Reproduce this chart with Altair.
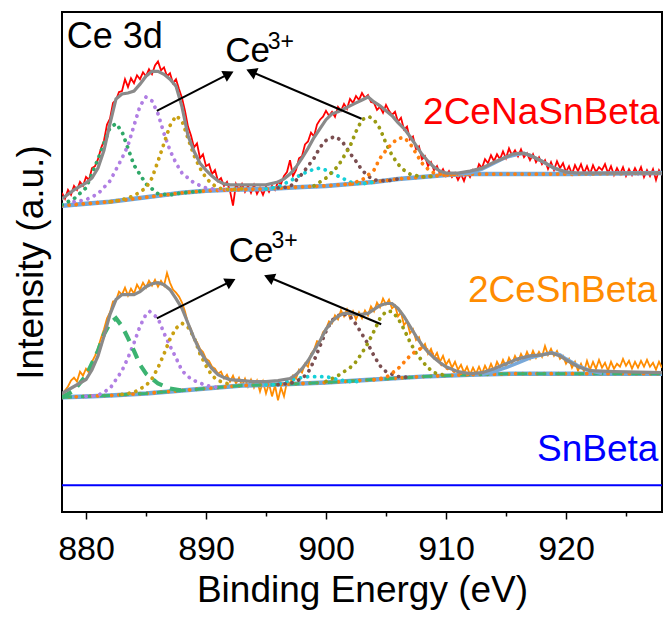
import altair as alt
import pandas as pd

# ---------------- data (intensity in arbitrary units) ----------------
E_START = 878.0
E_STEP = 0.25

# raw spectrum 2CeNaSnBeta, one row per eV (878.00, 878.25, 878.50, 878.75)
red_raw = [
    323, 317, 326, 321,  330, 326, 334, 330,  339, 336, 348, 350,  357, 368, 376, 392,
    398, 414, 417, 425,  426, 438, 430, 439,  434, 442, 438, 445,  441, 448, 443, 452,
    456, 447, 450, 441,  444, 434, 438, 428,  419, 406, 390, 381,  369, 373, 358, 362,
    350, 352, 342, 346,  335, 338, 330, 334,  325, 310, 332, 326,  332, 324, 330, 323,
    331, 322, 328, 321,  329, 324, 330, 326,  334, 332, 340, 344,  356, 340, 346, 358,
    360, 372, 375, 384,  380, 392, 397, 400,  406, 401, 405, 400,  410, 406, 413, 408,
    418, 414, 421, 417,  424, 419, 422, 415,  414, 407, 410, 404,  412, 406, 402, 405,
    395, 399, 387, 390,  377, 380, 367, 370,  357, 360, 350, 354,  346, 350, 342, 347,
    340, 345, 339, 343,  336, 342, 335, 344,  339, 346, 342, 352,  348, 357, 353, 361,
    355, 362, 357, 365,  358, 368, 361, 366,  360, 367, 359, 363,  356, 362, 354, 359,
    352, 356, 347, 354,  346, 355, 348, 353,  344, 350, 342, 351,  345, 352, 343, 350,
    342, 351, 344, 349,  346, 352, 343, 350,  341, 348, 342, 349,  340, 347, 341, 348,
    342, 349, 339, 346,  340, 347, 336, 346,  341,
]

# raw spectrum 2CeSnBeta
orange_raw = [
    118, 123, 127, 133,  136, 132, 142, 138,  145, 141, 152, 158,  166, 176, 185, 196,
    202, 213, 214, 223,  220, 227, 219, 226,  221, 230, 225, 232,  227, 234, 229, 235,
    228, 234, 229, 242,  232, 225, 222, 218,  212, 203, 191, 185,  175, 172, 165, 162,
    155, 153, 147, 145,  140, 142, 135, 139,  132, 138, 130, 136,  128, 135, 127, 134,
    126, 133, 122, 132,  120, 130, 117, 128,  113, 126, 117, 132,  130, 138, 135, 144,
    141, 150, 147, 160,  164, 173, 172, 182,  185, 193, 191, 199,  195, 204, 198, 205,
    196, 203, 195, 202,  196, 204, 199, 208,  203, 212, 207, 216,  210, 215, 206, 209,
    198, 202, 189, 193,  181, 185, 174, 177,  166, 170, 160, 165,  156, 161, 152, 158,
    149, 154, 146, 152,  144, 149, 141, 147,  139, 146, 140, 147,  140, 148, 142, 150,
    143, 152, 146, 154,  147, 156, 150, 158,  152, 160, 154, 162,  155, 163, 156, 162,
    157, 168, 159, 165,  158, 163, 155, 158,  150, 155, 146, 152,  143, 150, 142, 153,
    144, 152, 145, 154,  146, 151, 143, 152,  145, 150, 147, 155,  148, 153, 145, 152,
    146, 153, 147, 154,  147, 151, 144, 152,  146,
]

# ---- 2CeNaSnBeta fit ----
top_fit_e = [878, 879, 880, 880.5, 881, 881.5, 882, 882.5, 883, 883.5, 884, 884.5, 885, 885.5,
             886, 886.5, 887, 887.5, 888, 888.5, 889, 889.5, 890, 890.5, 891, 891.5, 892,
             893, 894, 895, 896, 896.5, 897, 897.5, 898, 898.5, 899, 899.5, 900, 900.5, 901,
             901.5, 902, 902.5, 903, 903.5, 904, 904.5, 905, 905.5, 906, 906.5, 907, 907.5,
             908, 908.5, 909, 909.5, 910, 911, 912, 913, 914, 915, 915.5, 916, 916.5, 917,
             918, 919, 920, 921, 922, 925, 928]
top_fit_i = [317, 326, 333, 338, 348, 366, 393, 418, 423, 424, 426, 433, 441, 446, 446, 443,
             438, 431, 410, 381, 365, 353, 346, 340, 335, 332, 331, 331, 331, 331, 334, 337,
             342, 349, 358, 368, 379, 388, 397, 403, 405, 408, 411, 414, 417, 420, 415, 411,
             406, 401, 394, 388, 380, 371, 362, 355, 349, 345, 343, 343, 345, 348, 354, 359,
             362, 363, 363, 361, 355, 348, 344, 343, 343, 343, 343]
top_base_e = [878, 880, 882, 884, 886, 888, 890, 892, 895, 898, 900, 902, 904, 906, 908, 910,
              912, 915, 920, 928]
top_base_i = [310, 312, 314, 317, 320, 323, 325, 326, 327, 329, 330, 332, 334, 337, 339, 341,
              342, 342, 342, 343]
top_green_e = [878, 879, 880, 881, 882, 882.5, 883, 884, 885, 886, 887, 888, 890]
top_green_i = [311, 317, 328, 357, 389, 393, 385, 351, 332, 322, 321, 323, 325]
top_purple_e = [879, 880, 881, 882, 883, 883.5, 884, 884.5, 885, 885.5, 886, 886.5, 887,
                887.5, 888, 889, 890, 891, 892]
top_purple_i = [314, 316, 322, 335, 358, 371, 391, 411, 420, 416, 403, 383, 366, 353, 343,
                333, 328, 326, 326]
top_gold_e = [882, 883, 884, 885, 885.5, 886, 886.5, 887, 887.5, 888, 888.5, 889, 889.5, 890,
              890.5, 891, 892, 893]
top_gold_i = [314, 316, 320, 328, 338, 355, 373, 391, 401, 396, 378, 361, 348, 338, 332, 328,
              326, 327]
top_cyan_e = [895, 896, 897, 898, 899, 899.5, 900, 901, 902, 903, 904]
top_cyan_i = [327, 329, 335, 342, 347, 348, 346, 340, 334, 332, 334]
top_brown_e = [896, 897, 898, 898.5, 899, 899.5, 900, 900.7, 901.3, 902, 902.5, 903, 903.5,
               904, 905, 906]
top_brown_i = [328, 329, 342, 350, 358, 369, 376, 380, 376, 363, 355, 346, 340, 336, 335, 337]
top_olive_e = [899, 900, 901, 902, 902.5, 903, 903.6, 904, 904.5, 905, 905.5, 906, 906.5,
               907, 908, 909]
top_olive_i = [330, 338, 350, 370, 385, 397, 400, 397, 388, 373, 361, 352, 346, 342, 339, 340]
top_orange_e = [902, 903, 904, 904.5, 905, 905.5, 906, 906.5, 907, 907.5, 908, 908.5, 909,
                910, 912]
top_orange_i = [332, 336, 346, 358, 366, 373, 378, 379, 373, 363, 353, 347, 343, 341, 342]
top_sat_e = [911, 912, 913, 914, 915, 916, 916.5, 917, 918, 919, 920, 921]
top_sat_i = [342, 343, 347, 353, 359, 362, 363, 361, 355, 348, 344, 342]

# ---- 2CeSnBeta fit ----
bot_fit_e = [878, 879, 880, 880.5, 881, 881.5, 882, 882.5, 883, 883.5, 884, 884.5, 885, 885.5,
             886, 886.5, 887, 887.5, 888, 888.5, 889, 889.5, 890, 890.5, 891, 891.5, 892,
             893, 894, 895, 896, 897, 897.5, 898, 898.5, 899, 899.5, 900, 900.5, 901, 901.5,
             902, 902.5, 903, 903.5, 904, 904.5, 905, 905.5, 906, 906.5, 907, 907.5, 908,
             908.5, 909, 909.5, 910, 911, 912, 913, 914, 915, 916, 917, 918, 918.8, 919.5,
             920, 921, 922, 924, 928]
bot_fit_i = [120, 127, 134, 144, 158, 178, 200, 215, 220, 220, 220, 223, 228, 231, 232, 230,
             225, 216, 206, 191, 176, 163, 153, 145, 139, 136, 134, 133, 132, 132, 133, 135,
             139, 145, 153, 163, 173, 185, 193, 198, 201, 201, 200, 200, 201, 205, 209, 211,
             211, 206, 198, 188, 178, 169, 162, 156, 151, 147, 142, 140, 141, 145, 150, 155,
             158, 159, 161, 158, 154, 147, 143, 142, 141]
bot_base_e = [878, 880, 882, 885, 888, 890, 893, 896, 900, 904, 908, 912, 916, 920, 928]
bot_base_i = [116, 117, 118, 120, 123, 125, 128, 129, 131, 134, 137, 139, 140, 140, 140]
bot_green_e = [878, 879, 880, 881, 881.5, 882, 882.5, 883, 883.5, 884, 884.5, 885, 886, 887, 888]
bot_green_i = [116, 123, 138, 163, 180, 191, 196, 188, 176, 163, 149, 140, 130, 125, 123]
bot_purple_e = [880, 881, 882, 883, 883.5, 884, 884.5, 885, 885.3, 886, 886.5, 887, 887.5,
                888, 888.5, 889, 890, 891]
bot_purple_i = [117, 118, 125, 143, 156, 171, 188, 200, 203, 196, 181, 168, 156, 143, 137,
                133, 128, 126]
bot_gold_e = [883, 884, 885, 885.5, 886, 886.5, 887, 887.5, 888, 888.5, 889, 889.5, 890, 890.5,
              891, 892]
bot_gold_i = [119, 121, 128, 135, 146, 160, 175, 186, 191, 187, 177, 160, 148, 138, 133, 129]
bot_cyan_e = [895, 896, 897, 897.5, 898.5, 900, 901, 902, 903]
bot_cyan_i = [129, 129, 133, 135, 137, 137, 134, 132, 132]
bot_brown_e = [896, 897, 898, 898.5, 899, 899.5, 900, 900.5, 901.3, 902, 902.5, 903, 903.5,
               904, 904.5, 905, 906, 907]
bot_brown_i = [129, 130, 135, 141, 153, 168, 183, 194, 201, 198, 190, 180, 170, 158, 148, 142,
               137, 136]
bot_olive_e = [900, 901, 902, 902.5, 903, 903.5, 904, 904.5, 905, 905.5, 906, 906.5, 907,
               907.5, 908, 908.5, 909, 910]
bot_olive_i = [132, 138, 146, 152, 161, 171, 183, 196, 203, 203, 196, 185, 172, 161, 153, 146,
               141, 138]
bot_orange_e = [904, 905, 906, 907, 907.5, 908, 908.5, 909, 909.5, 910, 911, 912]
bot_orange_i = [134, 136, 145, 158, 163, 166, 164, 158, 151, 146, 141, 139]
bot_sat_e = [913, 914, 915, 916, 917, 918, 918.8, 919.5, 920, 921, 922, 923]
bot_sat_i = [139, 142, 146, 151, 156, 159, 161, 159, 155, 148, 143, 140]

# ---- SnBeta ----
sn_e = [878, 928]
sn_i = [27, 27]

# ---- annotations ----
sample_labels = ["2CeNaSnBeta", "2CeSnBeta", "SnBeta"]
sample_label_e = [927.8, 927.6, 927.7]
sample_label_i = [393, 213, 52]
sample_colors = ["#ff0000", "#ff8c00", "#0000ff"]

ce_e = [891.6, 891.9]
ce_i = [455, 253]
sup_e = [895.15, 895.45]
sup_i = [469, 267]

arrow_start_e = [885.9, 902.96, 885.9, 904.6]
arrow_start_i = [406, 398, 196, 190]
arrow_head_e = [891.9, 893.77, 892.06, 895.25]
arrow_head_i = [443.3, 445.6, 233.3, 237.6]
arrow_angle = [63, 293, 63, 293]

major_ticks = [880, 890, 900, 910, 920]
minor_ticks = [885, 895, 905, 915, 925]

# ---------------- chart ----------------
FONT = "Liberation Sans"
xs = alt.Scale(domain=[878, 928], nice=False, zero=False)
ys = alt.Scale(domain=[0, 506], nice=False, zero=False)


def frame(e, i):
    return pd.DataFrame({"E": e, "I": i})


def line(e, i, color, width=2.0, dash=None, cap="butt", opacity=1.0):
    kw = dict(color=color, strokeWidth=width, strokeCap=cap, opacity=opacity, clip=True)
    if dash is not None:
        kw["strokeDash"] = dash
    return alt.Chart(frame(e, i)).mark_line(**kw).encode(
        x=alt.X("E:Q", scale=xs, axis=None),
        y=alt.Y("I:Q", scale=ys, axis=None),
    )


def grid(vals):
    return [E_START + E_STEP * k for k in range(len(vals))]


DOT = [0.1, 7]
DOTS = dict(dash=DOT, cap="round", width=3.8)

layers = []

# major axis layer (SnBeta line carries the axes)
sn = alt.Chart(frame(sn_e, sn_i)).mark_line(color="#0000ff", strokeWidth=2).encode(
    x=alt.X("E:Q", scale=xs, axis=alt.Axis(
        values=major_ticks, orient="bottom", format="d", grid=False, domain=False,
        ticks=True, tickSize=7, tickWidth=1.5, tickColor="black",
        labelFont=FONT, labelFontSize=34, labelColor="black", labelPadding=13,
        title="Binding Energy (eV)", titleFont=FONT, titleFontSize=37,
        titleFontWeight="normal", titleColor="black", titlePadding=6)),
    y=alt.Y("I:Q", scale=ys, axis=alt.Axis(
        orient="left", grid=False, domain=False, ticks=False, labels=False,
        title="Intensity (a.u.)", titleFont=FONT, titleFontSize=37,
        titleFontWeight="normal", titleColor="black", titlePadding=12)),
)
layers.append(sn)

minor = alt.Chart(frame(sn_e, sn_i)).mark_line(opacity=0).encode(
    x=alt.X("E:Q", scale=xs, axis=alt.Axis(
        values=minor_ticks, orient="bottom", grid=False, domain=False, labels=False,
        ticks=True, tickSize=4, tickWidth=1.5, tickColor="black", title=None)),
    y=alt.Y("I:Q", scale=ys, axis=None),
)
layers.append(minor)

# raw spectra
layers.append(line(grid(red_raw), red_raw, "#ff0000", width=1.8))
layers.append(line(grid(orange_raw), orange_raw, "#ff8c00", width=1.8))

# top components
layers += [
    line(top_base_e, top_base_i, "#6fa8dc", width=4.5),
    line(top_base_e, top_base_i, "#ff7f0e", **DOTS),
    line(top_green_e, top_green_i, "#2fa868", **DOTS),
    line(top_purple_e, top_purple_i, "#b07ee3", **DOTS),
    line(top_gold_e, top_gold_i, "#c9a012", **DOTS),
    line(top_cyan_e, top_cyan_i, "#16d0d8", **DOTS),
    line(top_brown_e, top_brown_i, "#7b4e50", **DOTS),
    line(top_olive_e, top_olive_i, "#9a9a12", **DOTS),
    line(top_orange_e, top_orange_i, "#ff7f0e", **DOTS),
    line(top_sat_e, top_sat_i, "#79a8d8", width=3.5),
    line(top_fit_e, top_fit_i, "#8a8a8a", width=3.2, cap="round"),
]

# bottom components
layers += [
    line(bot_base_e, bot_base_i, "#6fa8dc", width=4.5),
    line(bot_base_e, bot_base_i, "#ff7f0e", **DOTS),
    line(bot_base_e, bot_base_i, "#3cb371", dash=[10, 9], width=3),
    line(bot_purple_e, bot_purple_i, "#b07ee3", **DOTS),
    line(bot_gold_e, bot_gold_i, "#c9a012", **DOTS),
    line(bot_cyan_e, bot_cyan_i, "#16d0d8", **DOTS),
    line(bot_brown_e, bot_brown_i, "#7b4e50", **DOTS),
    line(bot_olive_e, bot_olive_i, "#9a9a12", **DOTS),
    line(bot_orange_e, bot_orange_i, "#ff7f0e", **DOTS),
    line(bot_green_e, bot_green_i, "#3cb371", dash=[11, 8], width=4.2),
    line(bot_sat_e, bot_sat_i, "#79a8d8", width=3.5),
    line(bot_fit_e, bot_fit_i, "#8a8a8a", width=3.2, cap="round"),
]

# sample labels
lab_df = pd.DataFrame({"E": sample_label_e, "I": sample_label_i, "t": sample_labels,
                       "c": sample_colors})
layers.append(alt.Chart(lab_df).mark_text(
    align="right", baseline="alphabetic", font=FONT, fontSize=37).encode(
    x=alt.X("E:Q", scale=xs, axis=None), y=alt.Y("I:Q", scale=ys, axis=None),
    text="t:N", color=alt.Color("c:N", scale=None)))

# Ce 3d
layers.append(alt.Chart(pd.DataFrame({"E": [878.4], "I": [470], "t": ["Ce 3d"]})).mark_text(
    align="left", baseline="alphabetic", font=FONT, fontSize=36, color="black").encode(
    x=alt.X("E:Q", scale=xs, axis=None), y=alt.Y("I:Q", scale=ys, axis=None), text="t:N"))

# Ce3+ labels
layers.append(alt.Chart(pd.DataFrame({"E": ce_e, "I": ce_i, "t": ["Ce", "Ce"]})).mark_text(
    align="left", baseline="alphabetic", font=FONT, fontSize=35, color="black").encode(
    x=alt.X("E:Q", scale=xs, axis=None), y=alt.Y("I:Q", scale=ys, axis=None), text="t:N"))
layers.append(alt.Chart(pd.DataFrame({"E": sup_e, "I": sup_i, "t": ["3+", "3+"]})).mark_text(
    align="left", baseline="alphabetic", font=FONT, fontSize=23, color="black").encode(
    x=alt.X("E:Q", scale=xs, axis=None), y=alt.Y("I:Q", scale=ys, axis=None), text="t:N"))

# arrows
arr_df = pd.DataFrame({"E": arrow_start_e, "I": arrow_start_i, "E2": arrow_head_e,
                       "I2": arrow_head_i, "a": arrow_angle})
layers.append(alt.Chart(arr_df).mark_rule(color="black", strokeWidth=2).encode(
    x=alt.X("E:Q", scale=xs, axis=None), y=alt.Y("I:Q", scale=ys, axis=None),
    x2="E2:Q", y2="I2:Q"))
layers.append(alt.Chart(arr_df).mark_point(
    shape="triangle-up", filled=True, color="black", size=150, opacity=1).encode(
    x=alt.X("E2:Q", scale=xs, axis=None), y=alt.Y("I2:Q", scale=ys, axis=None),
    angle=alt.Angle("a:Q", scale=None)))

chart = alt.layer(*layers).resolve_scale(x="shared", y="shared").resolve_axis(
    x="independent", y="independent").properties(
    width=600, height=500,
    padding={"left": 54, "top": 4, "right": 2, "bottom": 100},
    autosize=alt.AutoSizeParams(type="none"),
).configure_view(stroke="black", strokeWidth=2)

chart.save("out.html", embed_options={"renderer": "svg", "actions": False})
